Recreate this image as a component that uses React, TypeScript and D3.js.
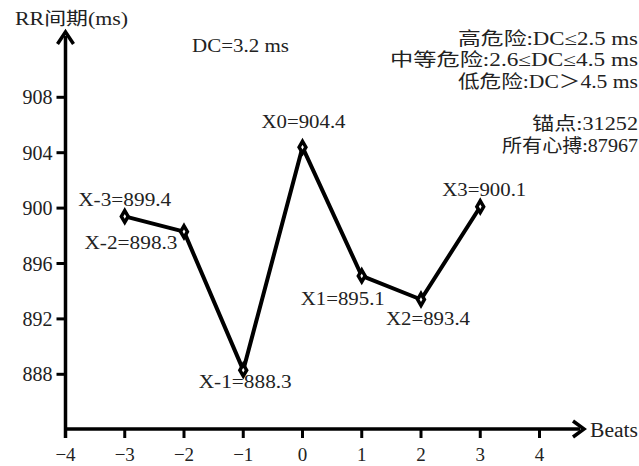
import React from "react";
import * as d3 from "d3";

const beats = [-3, -2, -1, 0, 1, 2, 3];
const rrValues = [899.4, 898.3, 888.3, 904.4, 895.1, 893.4, 900.1];
const pointNames = ["X-3", "X-2", "X-1", "X0", "X1", "X2", "X3"];
const xTicks = [-4, -3, -2, -1, 0, 1, 2, 3, 4];
const yTicks = [888, 892, 896, 900, 904, 908];
const infoLines = [
  "高危险:DC≤2.5 ms",
  "中等危险:2.6≤DC≤4.5 ms",
  "低危险:DC＞4.5 ms",
  "",
  "锚点:31252",
  "所有心搏:87967",
];
const dcText = "DC=3.2 ms";
const yTitle = "RR间期(ms)";
const xTitle = "Beats";

// layout only
const labelOffsets: [number, number][] = [
  [0, -10],
  [-53, 17],
  [2, 18],
  [1, -19],
  [-19, 29],
  [7, 25],
  [4, -11],
];
const infoWidths = [180, 248, 180, 0, 106, 136];

const W = 639;
const H = 466;
const FONT = "'Liberation Serif', 'Times New Roman', 'DejaVu Serif', 'Noto Sans CJK SC', serif";

export default function App() {
  const x = d3.scaleLinear().domain([-4, 4]).range([65.5, 539.5]);
  const y = d3.scaleLinear().domain([888, 908]).range([374.3, 97.3]);
  const axisY = 429;
  const axisX = x(-4);

  const pts = beats.map((b, i) => [x(b), y(rrValues[i])] as [number, number]);
  const line = d3.line()(pts) || "";
  const diamond = d3.symbol().type(d3.symbolDiamond).size(40)() || "";
  const txt = { fontFamily: FONT } as React.CSSProperties;

  return (
    <div style={{ position: "fixed", left: 0, top: 0 }}>
      <svg width={W} height={H} style={{ display: "block", background: "#fff", fontFamily: FONT }}>
        {/* y axis */}
        <line x1={axisX} x2={axisX} y1={438} y2={36} stroke="#000" strokeWidth={3.5} />
        <path d={`M${axisX - 8},${44} L${axisX},${32} L${axisX + 8},${44}`} fill="none" stroke="#000" strokeWidth={3.5} />
        {/* x axis */}
        <line x1={axisX} x2={580} y1={axisY} y2={axisY} stroke="#000" strokeWidth={3.5} />
        <path d={`M${573},${axisY - 8} L${584},${axisY} L${573},${axisY + 8}`} fill="none" stroke="#000" strokeWidth={3.5} />
        {/* y ticks */}
        {yTicks.map((t) => (
          <g key={t}>
            <line x1={axisX - 9} x2={axisX} y1={y(t)} y2={y(t)} stroke="#000" strokeWidth={3} />
            <text style={txt} x={axisX - 13} y={y(t) + 7} textAnchor="end" fontSize={20} fill="#222">
              {t}
            </text>
          </g>
        ))}
        {/* x ticks */}
        {xTicks.map((t) => (
          <g key={t}>
            <line x1={x(t)} x2={x(t)} y1={axisY} y2={438} stroke="#000" strokeWidth={3} />
            <text style={txt} x={x(t)} y={461} textAnchor="middle" fontSize={19} fill="#222">
              {t < 0 ? "\u2212" + Math.abs(t) : String(t)}
            </text>
          </g>
        ))}
        {/* axis titles */}
        <text style={txt} x={15} y={25} fontSize={18} fill="#222" textLength={113} lengthAdjust="spacingAndGlyphs">
          {yTitle}
        </text>
        <text style={txt} x={590} y={437} fontSize={20} fill="#222" textLength={48} lengthAdjust="spacingAndGlyphs">
          {xTitle}
        </text>
        <text style={txt} x={192} y={52} fontSize={19} fill="#222" textLength={97} lengthAdjust="spacingAndGlyphs">
          {dcText}
        </text>
        {/* info block */}
        {infoLines.map((s, i) =>
          s ? (
            <text
              key={i}
              style={txt}
              x={638 - infoWidths[i]}
              y={45 + i * 21.3}
              fontSize={18}
              fill="#222"
              textLength={infoWidths[i]}
              lengthAdjust="spacingAndGlyphs"
            >
              {s}
            </text>
          ) : null
        )}
        {/* series line */}
        <path d={line} fill="none" stroke="#000" strokeWidth={4} strokeLinejoin="round" />
        {pts.map((p, i) => (
          <path key={i} d={diamond} transform={`translate(${p[0]},${p[1]})`} fill="#fff" stroke="#000" strokeWidth={3.5} />
        ))}
        {/* point labels */}
        {pts.map((p, i) => (
          <text
            key={i}
            style={txt}
            x={p[0] + labelOffsets[i][0]}
            y={p[1] + labelOffsets[i][1]}
            textAnchor="middle"
            fontSize={19.5}
            fill="#222"
            textLength={pointNames[i].length === 3 ? 93 : 84}
            lengthAdjust="spacingAndGlyphs"
          >
            {`${pointNames[i]}=${rrValues[i].toFixed(1)}`}
          </text>
        ))}
      </svg>
    </div>
  );
}
